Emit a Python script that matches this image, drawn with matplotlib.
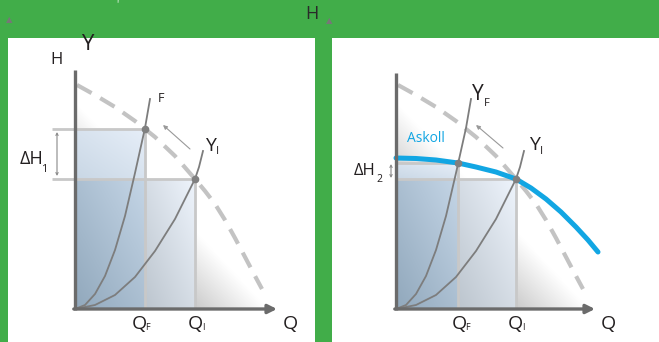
import numpy as np
import matplotlib
matplotlib.use("Agg")
import matplotlib.pyplot as plt
from matplotlib.patches import Polygon

plt.rcParams['font.family'] = ['Open Sans', 'DejaVu Sans']

# pump curve (dashed), same in both panels
pump_q = [2, 20, 40, 60, 70, 80, 100, 120, 130, 140, 150, 160, 170, 180, 187]
pump_h = [224, 214, 202, 188, 180, 172, 153, 130, 118, 105, 89, 71, 52, 33, 20]

# system curves
sysF_q = [0, 10, 20, 30, 40, 50, 60, 70, 75]
sysF_h = [0, 4, 15, 33, 59, 93, 136, 181, 210]
sysI_q = [0, 20, 40, 60, 80, 100, 120, 124, 128]
sysI_h = [0, 4, 14, 32, 58, 90, 130, 142, 158]

# Askoll curve (right panel)
askoll_q = [0, 20, 40, 62, 80, 100, 120, 135, 150, 165, 180, 192, 202]
askoll_h = [151, 150.5, 149, 146, 142, 137, 130, 121, 110, 97, 82, 69, 57]

# operating points
left_F = (70, 180)
left_I = (120, 130)
right_F = (62, 146)
right_I = (120, 130)

GREEN = '#41ad49'
AXIS = '#6b6b6b'
CURVE = '#7d7d7d'
DASH = '#c3c3c3'
GUIDE = '#c8c8c8'
BLUE = '#12a6e3'
TXT = '#231f20'


def grad_box(ax, x0, x1, y0, y1, c_bl, c_tr, z=1):
    n = 80
    u = np.linspace(0, 1, n)
    t = (u[None, :] + u[:, None]) / 2
    a = np.array(matplotlib.colors.to_rgb(c_bl))
    b = np.array(matplotlib.colors.to_rgb(c_tr))
    img = a + t[..., None] * (b - a)
    ax.imshow(img, extent=(x0, x1, y0, y1), origin='lower', aspect='auto',
              zorder=z, interpolation='bilinear')


def tri_shade(ax, qmax, hmax):
    n = 200
    xs = np.linspace(0, qmax, n)
    ys = np.linspace(0, hmax, n)
    X, Y = np.meshgrid(xs, ys)
    t = np.clip(1 - (X / qmax + Y / hmax), 0, 1)
    g = np.clip(1 - 0.55 * t, 0, 1)
    img = np.dstack([g, g, g])
    im = ax.imshow(img, extent=(0, qmax, 0, hmax), origin='lower', aspect='auto',
                   zorder=0.5, interpolation='bilinear')
    poly = Polygon([(0, 0), (0, hmax), (qmax, 0)], closed=True, transform=ax.transData)
    im.set_clip_path(poly)


def panel(ax, F, I, ytop, xend, xlim, askoll=False):
    ax.add_patch(plt.Rectangle((0, 0), 1, 1, transform=ax.transAxes, facecolor='white', zorder=-5))
    tri_shade(ax, 193, 207)
    # shaded rectangles
    grad_box(ax, 0, F[0], 0, I[1], '#91a8bc', '#c4d5e6')
    grad_box(ax, 0, F[0], I[1], F[1], '#c9d7e5', '#e6eef8')
    grad_box(ax, F[0], I[0], 0, I[1], '#bcc5ce', '#eef4fc')

    # guide lines
    hstart = 0 if askoll else -23
    ax.plot([hstart, F[0]], [F[1], F[1]], color=GUIDE, lw=2, zorder=2, solid_capstyle='butt')
    ax.plot([hstart, I[0]], [I[1], I[1]], color=GUIDE, lw=2, zorder=2, solid_capstyle='butt')
    ax.plot([F[0], F[0]], [0, F[1]], color=GUIDE, lw=2, zorder=2, solid_capstyle='butt')
    ax.plot([I[0], I[0]], [0, I[1]], color=GUIDE, lw=2, zorder=2, solid_capstyle='butt')

    # dashed pump curve
    ax.plot(pump_q, pump_h, color=DASH, lw=3, dashes=(4, 2.4), zorder=3)
    # system curves
    ax.plot(sysF_q, sysF_h, color=CURVE, lw=1.3, zorder=4)
    ax.plot(sysI_q, sysI_h, color=CURVE, lw=1.3, zorder=4)
    if askoll:
        ax.plot(askoll_q, askoll_h, color=BLUE, lw=3.6, zorder=5, solid_capstyle='round')

    ax.plot([F[0], I[0]], [F[1], I[1]], 'o', color='#808080', ms=4.5, zorder=6)

    # axes
    ax.plot([0, 0], [-1, ytop], color=AXIS, lw=2.4, zorder=7, solid_capstyle='butt')
    ax.annotate('', xy=(xend, 0), xytext=(-1.2, 0),
                arrowprops=dict(arrowstyle='-|>', color=AXIS, lw=2.4, mutation_scale=13,
                                shrinkA=0, shrinkB=0), zorder=7)

    ax.set_xlim(*xlim)
    ax.set_ylim(-33, 271)
    ax.axis('off')


fig = plt.figure(figsize=(6.59, 3.42), dpi=100, facecolor=GREEN)

axL = fig.add_axes([8 / 659, 0, 307 / 659, 304 / 342])
axR = fig.add_axes([332 / 659, 0, 327 / 659, 304 / 342])

panel(axL, left_F, left_I, 239, 202, (-67, 240))
panel(axR, right_F, right_I, 236, 199, (-64, 263), askoll=True)

# small arrows showing shift
axL.annotate('', xy=(88, 184), xytext=(115, 160),
             arrowprops=dict(arrowstyle='-|>', color='#999999', lw=0.8, mutation_scale=6,
                             shrinkA=0, shrinkB=0))
axR.annotate('', xy=(80, 184), xytext=(107, 161),
             arrowprops=dict(arrowstyle='-|>', color='#999999', lw=0.8, mutation_scale=6,
                             shrinkA=0, shrinkB=0))

# delta H brackets
axL.annotate('', xy=(-18, 177), xytext=(-18, 133),
             arrowprops=dict(arrowstyle='<->', color='#8a8a8a', lw=0.8, mutation_scale=4,
                             shrinkA=0, shrinkB=0))
axR.annotate('', xy=(-5, 145), xytext=(-5, 131),
             arrowprops=dict(arrowstyle='<->', color='#8a8a8a', lw=0.8, mutation_scale=4,
                             shrinkA=0, shrinkB=0))

# left panel labels
axL.text(12, 264, 'Y', fontsize=16, color=TXT, ha='center', va='center')
axL.text(-18, 249, 'H', fontsize=12, color=TXT, ha='center', va='center')
axL.text(86, 211, 'F', fontsize=9, color=TXT, ha='center', va='center')
axL.text(135, 163, 'Y', fontsize=14, color=TXT, ha='center', va='center')
axL.text(142, 157, 'I', fontsize=8, color=TXT, ha='center', va='center')
axL.text(-44, 150, 'ΔH', fontsize=13, color=TXT, ha='center', va='center')
axL.text(-30.5, 139, '1', fontsize=8, color=TXT, ha='center', va='center')
axL.text(64, -15, 'Q', fontsize=14, color=TXT, ha='center', va='center')
axL.text(72.5, -18, 'F', fontsize=6.5, color=TXT, ha='center', va='center')
axL.text(120, -15, 'Q', fontsize=14, color=TXT, ha='center', va='center')
axL.text(128, -18, 'I', fontsize=6.5, color=TXT, ha='center', va='center')
axL.text(215, -15, 'Q', fontsize=14, color=TXT, ha='center', va='center')

# right panel labels
axR.text(11, 171, 'Askoll', fontsize=10, color=BLUE, ha='left', va='center')
axR.text(82, 214, 'Y', fontsize=15, color=TXT, ha='center', va='center')
axR.text(90.5, 206, 'F', fontsize=8, color=TXT, ha='center', va='center')
axR.text(138, 164, 'Y', fontsize=14, color=TXT, ha='center', va='center')
axR.text(145, 158, 'I', fontsize=8, color=TXT, ha='center', va='center')
axR.text(-31, 138, 'ΔH', fontsize=12, color=TXT, ha='center', va='center')
axR.text(-17, 129, '2', fontsize=7.5, color=TXT, ha='center', va='center')
axR.text(63, -15, 'Q', fontsize=14, color=TXT, ha='center', va='center')
axR.text(71.5, -18, 'F', fontsize=6.5, color=TXT, ha='center', va='center')
axR.text(119, -15, 'Q', fontsize=14, color=TXT, ha='center', va='center')
axR.text(127, -18, 'I', fontsize=6.5, color=TXT, ha='center', va='center')
axR.text(212, -15, 'Q', fontsize=14, color=TXT, ha='center', va='center')

# top band
fig.text(312 / 659, 1 - 14 / 342, 'H', fontsize=13, color='#2a2a2a', ha='center', va='center')
fig.text(9 / 659, 1 - 20 / 342, '▲', fontsize=6, color='#777777', ha='center', va='center',
         family='DejaVu Sans')
fig.text(329 / 659, 1 - 21 / 342, '▲', fontsize=6, color='#777777', ha='center', va='center',
         family='DejaVu Sans')
fig.text(117 / 659, 1 - 5 / 342, "'", fontsize=7, color='white', ha='center', va='center')

fig.savefig('out.png', dpi=100, facecolor=GREEN)
